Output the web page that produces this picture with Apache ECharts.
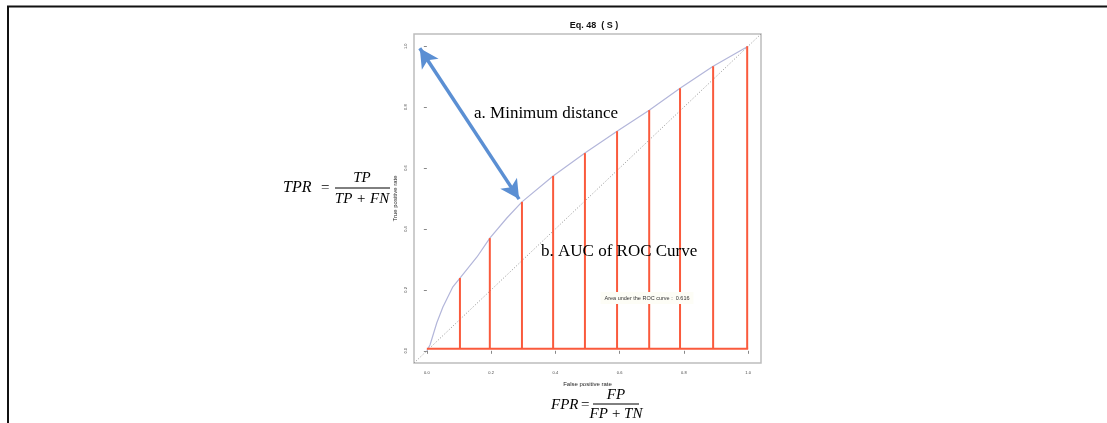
<!DOCTYPE html>
<html>
<head>
<meta charset="utf-8">
<script src="https://cdn.jsdelivr.net/npm/echarts@6/dist/echarts.min.js"></script>
<style>html,body{margin:0;padding:0;background:#fff;}#c{width:1107px;height:423px;}</style>
</head>
<body>
<div id="c"></div>
<script>
// ---- data ----
var tickValues = [0, 0.2, 0.4, 0.6, 0.8, 1.0];
var rocFpr = [0, 0.01, 0.031, 0.05, 0.081, 0.103, 0.156, 0.196, 0.249, 0.296, 0.393, 0.492, 0.592, 0.692, 0.788, 0.891, 1.0];
var rocTpr = [0, 0.02, 0.092, 0.144, 0.21, 0.239, 0.308, 0.37, 0.436, 0.489, 0.574, 0.649, 0.721, 0.79, 0.862, 0.934, 1.0];
var stemFpr = [0.103, 0.196, 0.296, 0.393, 0.492, 0.592, 0.692, 0.788, 0.891, 0.997];
var stemTpr = [0.239, 0.37, 0.489, 0.574, 0.649, 0.721, 0.79, 0.862, 0.934, 1.0];
var stemBase = 0.007;
var baseLine = [[0, 0.007], [1.0, 0.007]];
var diagonal = [[-0.04, -0.04], [1.04, 1.04]];
var arrowFrom = [-0.022, 0.993];
var arrowTo = [0.287, 0.498];
var aucText = 'Area under the ROC curve :  0.616';

var roc = rocFpr.map(function (x, i) { return [x, rocTpr[i]]; });
var stems = stemFpr.map(function (x, i) { return [x, stemTpr[i]]; });

var chart = echarts.init(document.getElementById('c'), null, {renderer: 'canvas'});
var RED = '#fa5a3c';
var serif = '"Liberation Serif", "DejaVu Serif", serif';
var sans = '"Liberation Sans", Arial, sans-serif';

function axisCommon(name, rot, gap) {
  return {
    type: 'value', min: -0.04, max: 1.04,
    name: name, nameLocation: 'middle', nameGap: gap, nameRotate: rot,
    nameTextStyle: {fontSize: 6, color: '#222', fontFamily: sans},
    axisLine: {show: false},
    axisTick: {show: true, length: 3, customValues: tickValues, lineStyle: {color: '#888', width: 1}},
    axisLabel: {show: true, customValues: tickValues, fontSize: 4, color: '#444', fontFamily: sans,
      margin: 8, formatter: function (v) { return v.toFixed(1); }},
    splitLine: {show: false}
  };
}
var xa = axisCommon('False positive rate', 0, 18);
var ya = axisCommon('True positive rate', 90, 16);
ya.axisLabel.rotate = 90;
ya.axisLabel.margin = 6;

var option = {
  animation: false,
  backgroundColor: '#fff',
  title: {
    text: 'Eq. 48  ( S )', left: 589, top: 16, textAlign: 'center',
    textStyle: {fontSize: 9, fontWeight: 'bold', color: '#111', fontFamily: sans}
  },
  grid: {left: 414, right: 346, top: 34, bottom: 60, show: true, borderColor: '#bdbdbd', borderWidth: 1.5, backgroundColor: 'transparent'},
  xAxis: xa,
  yAxis: ya,
  series: [
    {
      type: 'line', data: diagonal, showSymbol: false, symbol: 'none', silent: true,
      lineStyle: {color: '#8f8f8f', width: 1, type: [1, 2]}, z: 1
    },
    {
      type: 'line', data: roc, showSymbol: false, symbol: 'none', silent: true,
      lineStyle: {color: '#b3b6da', width: 1.2}, z: 2
    },
    {
      type: 'line', data: baseLine, showSymbol: false, symbol: 'none', silent: true,
      lineStyle: {color: RED, width: 2}, z: 3
    },
    {
      type: 'custom', data: stems, silent: true, z: 3,
      renderItem: function (params, api) {
        var x = api.value(0), y = api.value(1);
        var p0 = api.coord([x, stemBase]);
        var p1 = api.coord([x, y]);
        return {type: 'line', shape: {x1: p0[0], y1: p0[1], x2: p1[0], y2: p1[1]},
          style: {stroke: RED, lineWidth: 2}};
      },
      markLine: {
        silent: true, symbol: ['arrow', 'arrow'], symbolSize: [15, 19], precision: 3,
        label: {show: false},
        lineStyle: {color: '#5b8fd3', width: 3.5, type: 'solid'},
        emphasis: {disabled: true},
        data: [[{coord: arrowFrom}, {coord: arrowTo}]],
        z: 10
      }
    }
  ],
  graphic: [
    {type: 'polyline', shape: {points: [[8, 423], [8, 6.5], [1107, 6.5]]}, style: {stroke: '#111', lineWidth: 2, fill: null}, z: 100},
    {type: 'text', left: 474, top: 105, style: {text: 'a. Minimum distance', font: '17px ' + serif, fill: '#000'}, z: 100},
    {type: 'text', left: 541, top: 243, style: {text: 'b. AUC of ROC Curve', font: '17px ' + serif, fill: '#000'}, z: 100},
    {type: 'text', x: 647, y: 298, style: {text: aucText, font: '5.5px ' + sans, fill: '#333', align: 'center', verticalAlign: 'middle',
      backgroundColor: '#fdfdf6', padding: [3, 4]}, z: 100},
    // TPR formula
    {type: 'text', x: 283, y: 188, style: {text: 'TPR', font: 'italic 16px ' + serif, fill: '#000', verticalAlign: 'middle'}, z: 100},
    {type: 'text', x: 321, y: 188, style: {text: '=', font: '15px ' + serif, fill: '#000', verticalAlign: 'middle'}, z: 100},
    {type: 'text', x: 362, y: 178, style: {text: 'TP', font: 'italic 15px ' + serif, fill: '#000', align: 'center', verticalAlign: 'middle'}, z: 100},
    {type: 'line', shape: {x1: 335, y1: 188, x2: 390, y2: 188}, style: {stroke: '#000', lineWidth: 1}, z: 100},
    {type: 'text', x: 362, y: 199, style: {text: 'TP + FN', font: 'italic 15px ' + serif, fill: '#000', align: 'center', verticalAlign: 'middle'}, z: 100},
    // FPR formula
    {type: 'text', x: 551, y: 405, style: {text: 'FPR', font: 'italic 15px ' + serif, fill: '#000', verticalAlign: 'middle'}, z: 100},
    {type: 'text', x: 581, y: 405, style: {text: '=', font: '15px ' + serif, fill: '#000', verticalAlign: 'middle'}, z: 100},
    {type: 'text', x: 616, y: 395, style: {text: 'FP', font: 'italic 15px ' + serif, fill: '#000', align: 'center', verticalAlign: 'middle'}, z: 100},
    {type: 'line', shape: {x1: 593, y1: 404, x2: 639, y2: 404}, style: {stroke: '#000', lineWidth: 1}, z: 100},
    {type: 'text', x: 616, y: 414, style: {text: 'FP\u2009+\u2009TN', font: 'italic 15px ' + serif, fill: '#000', align: 'center', verticalAlign: 'middle'}, z: 100}
  ]
};
chart.setOption(option);
</script>
</body>
</html>
